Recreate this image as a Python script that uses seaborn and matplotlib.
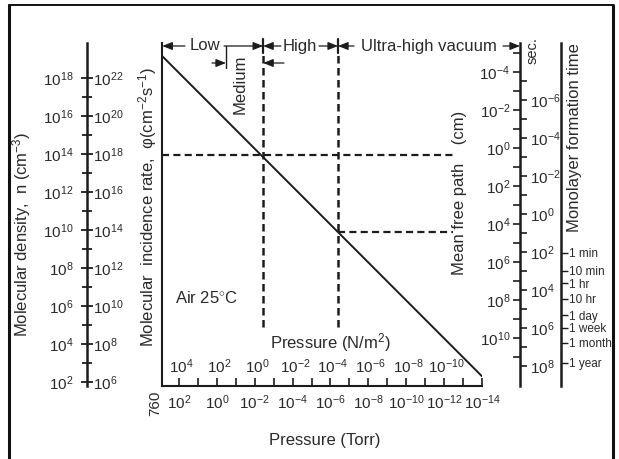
import numpy as np
import matplotlib
matplotlib.use("Agg")
import matplotlib.pyplot as plt
import seaborn as sns
from matplotlib.ticker import FuncFormatter, NullFormatter, NullLocator

# diagonal: molecular density against pressure
pressure_torr = [760, 1e-14]
density_cm3 = [1.4e19, 2.0e2]

# range boundaries (Torr) and dashed guide levels (cm^-3)
p_medium_start = 0.33
p_high_start = 3.6e-3
p_uhv_start = 4.0e-7
p_guide_end = 3.4e-13
n_guide_1 = 10 ** 13.95
n_guide_2 = 10 ** 9.89
n_guide_bottom = 10 ** 4.9

# scale ticks
torr_ticks = [10.0 ** k for k in range(2, -15, -2)]
torr_minor = [10.0 ** k for k in range(1, -14, -2)]
pa_ticks = [10.0 ** k for k in range(4, -11, -2)]
n_ticks = [10.0 ** k for k in range(2, 19, 2)]
n_minor = [10.0 ** k for k in range(3, 18, 2)]
phi_ticks = [10.0 ** k for k in range(6, 23, 2)]
mfp_ticks = [10.0 ** k for k in range(-4, 11, 2)]
mfp_minor = [10.0 ** k for k in range(-5, 12, 2)]
time_ticks = [10.0 ** k for k in range(-6, 9, 2)]
time_minor = [10.0 ** k for k in range(-7, 8, 2)]
life_labels = ["1 min", "10 min", "1 hr", "10 hr", "1 day", "1 week", "1 month", "1 year"]
# where the labels sit on the seconds scale of the chart
life_seconds = [105, 950, 4100, 2.8e4, 2.0e5, 9.5e5, 5.8e6, 6.6e7]

# conversions between the scales
torr_to_pa = 133.3
phi_per_n = 1e4
mfp_const = 10 ** 14.32   # mean free path (cm) = mfp_const / n
time_const = 10 ** 10.82  # monolayer time (s) = time_const / n

sns.set_theme(style="white")
plt.rcParams["font.family"] = ["Liberation Sans", "DejaVu Sans"]
plt.rcParams["mathtext.fontset"] = "custom"
plt.rcParams["mathtext.rm"] = "Liberation Sans"
plt.rcParams["mathtext.it"] = "Liberation Sans:italic"
plt.rcParams["mathtext.bf"] = "Liberation Sans:bold"

ink = "#1c1c1c"
txt = "#2a2a2a"
tick_fs = 11

W, H = 619, 459
fig = plt.figure(figsize=(W / 100, H / 100), dpi=100)
fig.patch.set_facecolor("white")


def fx(x):
    return x / W


def fy(y):
    return 1 - y / H


def pow10(v, pos=None):
    return r"$\mathregular{10^{%d}}$" % int(round(np.log10(v)))


fmt = FuncFormatter(pow10)

ax = fig.add_axes([fx(162.3), fy(386), (482 - 162.3) / W, (386 - 43) / H])
ax.set_xscale("log")
ax.set_yscale("log")
sns.lineplot(x=pressure_torr, y=density_cm3, ax=ax, color=ink, lw=1.4)
ax.set_xlim(760, 1e-14)
ax.set_ylim(10 ** 1.79, 10 ** 19.84)
ax.set_facecolor("none")

for s in ["top", "right"]:
    ax.spines[s].set_visible(False)
for s in ["left", "bottom"]:
    ax.spines[s].set_color(ink)
    ax.spines[s].set_linewidth(1.5)

ax.tick_params(axis="y", which="both", left=False, labelleft=False)
ax.set_xticks(torr_ticks)
ax.set_xticks(torr_minor, minor=True)
ax.xaxis.set_major_formatter(fmt)
ax.xaxis.set_minor_formatter(NullFormatter())
ax.tick_params(axis="x", which="both", direction="in", length=6, width=1.2,
               color=ink, labelsize=tick_fs, labelcolor=txt, pad=5, bottom=True)
ax.text(760, -0.05, "760", rotation=90, ha="right", va="center", fontsize=tick_fs,
        color=txt, transform=ax.get_xaxis_transform())

# dashed guides
dash_v = dict(color=ink, lw=1.8, dashes=(3, 1.8))
dash_h = dict(color=ink, lw=1.6, dashes=(3.2, 1.9))
ax.plot([p_high_start, p_high_start], [n_guide_bottom, 10 ** 19.3], **dash_v)
ax.plot([p_uhv_start, p_uhv_start], [n_guide_bottom, 10 ** 19.3], **dash_v)
ax.plot([760, p_guide_end], [n_guide_1, n_guide_1], **dash_h)
ax.plot([p_uhv_start, p_guide_end], [n_guide_2, n_guide_2], **dash_h)

# solid marks at the top of the range boundaries
for p in [p_high_start, p_uhv_start]:
    ax.plot([p, p], [10 ** 19.3, 10 ** 20.05], color=ink, lw=1.6, clip_on=False)
ax.plot([p_medium_start, p_medium_start], [10 ** 18.5, 10 ** 19.68], color=ink, lw=1.0,
        clip_on=False)

# pressure in N/m^2, labels inside the plot
sec_pa = ax.secondary_xaxis(0.088, functions=(lambda p: p * torr_to_pa,
                                              lambda p: p / torr_to_pa))
sec_pa.set_ticks(pa_ticks)
sec_pa.xaxis.set_major_formatter(fmt)
sec_pa.xaxis.set_minor_locator(NullLocator())
sec_pa.tick_params(length=0, pad=1, labelsize=tick_fs, labelcolor=txt)
for s in sec_pa.spines.values():
    s.set_visible(False)

# left scale: density (left labels) and incidence rate (right labels)
loc_left = (87 - 162.3) / 319.7
sec_n = ax.secondary_yaxis(loc_left, functions=(lambda n: n, lambda n: n))
sec_n.set_alignment("left")
sec_n.set_ticks(n_ticks)
sec_n.set_ticks(n_minor, minor=True)
sec_n.yaxis.set_major_formatter(fmt)
sec_n.yaxis.set_minor_formatter(NullFormatter())
sec_n.tick_params(which="major", direction="inout", length=9, width=1.3, color=ink,
                  pad=5, labelsize=tick_fs, labelcolor=txt)
sec_n.tick_params(which="minor", direction="inout", length=7, width=1.3, color=ink)
sec_n.spines["left"].set_linewidth(1.8)
sec_n.spines["left"].set_color(ink)

sec_phi = ax.secondary_yaxis(loc_left, functions=(lambda n: n * phi_per_n,
                                                  lambda f: f / phi_per_n))
sec_phi.set_alignment("right")
sec_phi.set_ticks(phi_ticks)
sec_phi.yaxis.set_major_formatter(fmt)
sec_phi.yaxis.set_minor_locator(NullLocator())
sec_phi.tick_params(length=0, pad=4, labelsize=tick_fs, labelcolor=txt)
sec_phi.spines["right"].set_visible(False)

# right scale: mean free path (left labels) and monolayer time in s (right labels)
loc_mfp = (520 - 162.3) / 319.7
sec_mfp = ax.secondary_yaxis(loc_mfp, functions=(lambda n: mfp_const / n,
                                                 lambda l: mfp_const / l))
sec_mfp.set_alignment("left")
sec_mfp.set_ticks(mfp_ticks)
sec_mfp.set_ticks(mfp_minor, minor=True)
sec_mfp.yaxis.set_major_formatter(fmt)
sec_mfp.yaxis.set_minor_formatter(NullFormatter())
sec_mfp.tick_params(which="both", direction="out", length=5, width=1.2, color=ink,
                    pad=2, labelsize=tick_fs, labelcolor=txt)
sec_mfp.spines["left"].set_linewidth(1.8)
sec_mfp.spines["left"].set_color(ink)

sec_t = ax.secondary_yaxis(loc_mfp, functions=(lambda n: time_const / n,
                                               lambda t: time_const / t))
sec_t.set_alignment("right")
sec_t.set_ticks(time_ticks)
sec_t.set_ticks(time_minor, minor=True)
sec_t.yaxis.set_major_formatter(fmt)
sec_t.yaxis.set_minor_formatter(NullFormatter())
sec_t.tick_params(which="both", direction="out", length=5, width=1.2, color=ink,
                  pad=2, labelsize=tick_fs, labelcolor=txt)
sec_t.spines["right"].set_visible(False)

# monolayer formation time in everyday units
loc_life = (561 - 162.3) / 319.7
sec_life = ax.secondary_yaxis(loc_life, functions=(lambda n: time_const / n,
                                                   lambda t: time_const / t))
sec_life.set_alignment("right")
sec_life.set_ticks(life_seconds, labels=life_labels)
sec_life.yaxis.set_minor_locator(NullLocator())
sec_life.tick_params(direction="out", length=5, width=1.0, color=ink, pad=1,
                     labelsize=8.5, labelcolor=txt)
sec_life.spines["right"].set_linewidth(1.8)
sec_life.spines["right"].set_color(ink)

# range annotations along the top
y_top = (386 - 46) / 343
y_med = (386 - 63) / 343
arr = dict(arrowstyle="-|>,head_length=0.5,head_width=0.2", lw=0.9, color=ink,
           shrinkA=0, shrinkB=0)
bound = ("data", "axes fraction")


def range_arrow(x_text, y_px, target, coords=bound):
    ax.annotate("", xy=target, xycoords=coords, xytext=(x_text, H - y_px),
                textcoords="figure pixels", arrowprops=arr, annotation_clip=False)


range_arrow(185, 46, (0, y_top), "axes fraction")
range_arrow(224, 46, (p_high_start, y_top))
range_arrow(281, 46, (p_high_start, y_top))
range_arrow(319, 46, (p_uhv_start, y_top))
range_arrow(354, 46, (p_uhv_start, y_top))
range_arrow(503, 46, (loc_mfp, y_top), "axes fraction")
range_arrow(212, 63, (p_medium_start, y_med))
range_arrow(284, 63, (p_high_start, y_med))

lbl = dict(color=txt, ha="center", va="center")
fig.text(fx(205), fy(46), "Low", fontsize=12, **lbl)
fig.text(fx(300), fy(46), "High", fontsize=12, **lbl)
fig.text(fx(429), fy(46), "Ultra-high vacuum", fontsize=12, **lbl)
fig.text(fx(240), fy(84), "Medium", fontsize=12, rotation=90, **lbl)

fig.text(fx(22), fy(234), "Molecular density,  n (cm$^{-3}$)", fontsize=12,
         rotation=90, **lbl)
fig.text(fx(148), fy(207), "Molecular  incidence rate,  \u03c6(cm$^{-2}$s$^{-1}$)",
         fontsize=12, rotation=90, **lbl)
fig.text(fx(460), fy(193), "Mean free path    (cm)", fontsize=12, rotation=90, **lbl)
fig.text(fx(575), fy(138), "Monolayer formation time", fontsize=12, rotation=90, **lbl)
fig.text(fx(533), fy(51), "sec.", fontsize=10.5, rotation=90, **lbl)
fig.text(fx(175), fy(298), "Air 25$^{\\circ}$C", fontsize=12, color=txt,
         ha="left", va="center")
fig.text(fx(330), fy(343), "Pressure (N/m$^{2}$)", fontsize=12, **lbl)
fig.text(fx(325), fy(440), "Pressure (Torr)", fontsize=12, **lbl)

# scanned page frame
frame = dict(color="#111111", transform=fig.transFigure)
fig.add_artist(plt.Line2D([fx(9), fx(9)], [fy(5), 0], lw=2.2, **frame))
fig.add_artist(plt.Line2D([fx(613), fx(613)], [fy(5), 0], lw=2.2, **frame))
fig.add_artist(plt.Line2D([fx(9), fx(613)], [fy(5), fy(5)], lw=1.4, **frame))

fig.savefig("out.png", dpi=100, facecolor="white")
